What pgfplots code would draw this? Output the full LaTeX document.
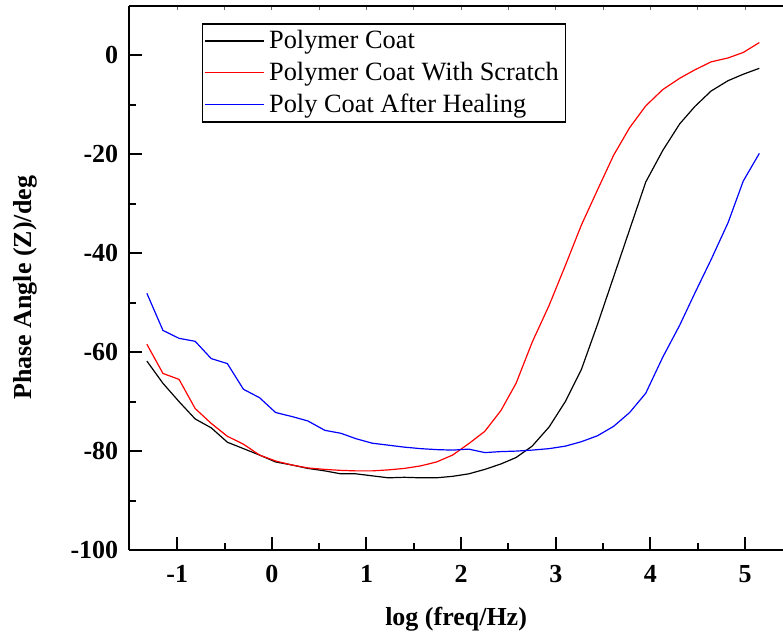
\documentclass[border=0pt]{standalone}
\usepackage{pgfplots}
\pgfplotsset{compat=1.18}
\usepackage{fontspec}
\setmainfont{Liberation Serif}

\pgfplotsset{
  /pgfplots/legend image code/.code={\draw[#1] (0bp,0bp) -- (29.5bp,0bp);},
}

\pgfplotstableread{
x y
-1.32 -61.8
-1.15 -66.3
-0.98 -70.0
-0.81 -73.5
-0.64 -75.3
-0.47 -78.2
-0.30 -79.5
-0.13 -80.8
0.04 -82.2
0.21 -82.8
0.38 -83.5
0.56 -84.0
0.73 -84.6
0.89 -84.6
1.06 -85.0
1.23 -85.4
1.40 -85.3
1.57 -85.4
1.74 -85.4
1.91 -85.1
2.08 -84.6
2.25 -83.7
2.42 -82.6
2.58 -81.3
2.75 -79.0
2.93 -75.1
3.10 -70.0
3.27 -63.5
3.44 -54.4
3.61 -44.8
3.78 -35.2
3.95 -25.6
4.13 -19.2
4.31 -13.8
4.47 -10.3
4.64 -7.2
4.82 -5.1
4.98 -3.8
5.15 -2.6
}\coat

\pgfplotstableread{
x y
-1.32 -58.4
-1.15 -64.3
-0.98 -65.5
-0.81 -71.4
-0.64 -74.4
-0.47 -77.0
-0.30 -78.6
-0.13 -80.8
0.04 -82.0
0.21 -82.8
0.38 -83.4
0.56 -83.7
0.73 -83.9
0.89 -84.0
1.06 -84.0
1.23 -83.8
1.40 -83.5
1.57 -83.0
1.74 -82.2
1.91 -80.8
2.08 -78.5
2.25 -76.0
2.42 -71.8
2.58 -66.3
2.75 -58.0
2.93 -50.5
3.10 -42.5
3.27 -34.3
3.44 -27.2
3.61 -20.2
3.78 -14.6
3.95 -10.2
4.13 -6.9
4.31 -4.6
4.47 -2.9
4.64 -1.3
4.82 -0.5
4.98 0.6
5.15 2.6
}\scratch

\pgfplotstableread{
x y
-1.32 -48.1
-1.15 -55.6
-0.98 -57.2
-0.81 -57.8
-0.64 -61.3
-0.47 -62.3
-0.30 -67.5
-0.13 -69.2
0.04 -72.2
0.21 -73.0
0.38 -73.9
0.56 -75.8
0.73 -76.4
0.89 -77.5
1.06 -78.4
1.23 -78.8
1.40 -79.2
1.57 -79.5
1.74 -79.7
1.91 -79.8
2.08 -79.6
2.25 -80.3
2.42 -80.1
2.58 -80.0
2.75 -79.8
2.93 -79.5
3.10 -79.0
3.27 -78.1
3.44 -76.9
3.61 -75.0
3.78 -72.2
3.95 -68.3
4.13 -61.0
4.31 -54.5
4.47 -48.0
4.64 -41.3
4.82 -33.8
4.98 -25.4
5.15 -19.8
}\healed

\begin{document}
\begin{tikzpicture}
\begin{axis}[
  at={(0,0)}, anchor=south west,
  scale only axis, width=327.2bp, height=272.25bp,
  xmin=-1.507, xmax=5.4, ymin=-100, ymax=10,
  axis x line*=bottom, axis y line*=left,
  x axis line style={-}, y axis line style={-},
  axis line style={line width=1bp, black},
  tick align=inside,
  xtick={-1,0,...,5}, minor x tick num=1,
  ytick={-100,-80,...,0}, minor y tick num=1,
  major tick length=6.5bp, minor tick length=3.3bp,
  every tick/.style={line width=1bp, black},
  ticklabel style={font=\bfseries\fontsize{13bp}{15bp}\selectfont},
  /pgf/number format/assume math mode=true,
  xticklabel style={yshift=-4bp},
  yticklabel style={xshift=-2bp},
  xlabel={log (freq/Hz)}, ylabel={Phase Angle (Z)/deg},
  label style={font=\bfseries\fontsize{13bp}{15bp}\selectfont},
  xlabel style={at={(axis description cs:0.5,-0.128)}, anchor=center},
  ylabel style={at={(axis description cs:-0.1594,0.482)}, anchor=center},
  legend style={at={(axis description cs:0.1107,0.968)}, anchor=north west,
    draw=black, line width=0.6bp, font=\fontsize{13.2bp}{15bp}\selectfont,
    inner xsep=1bp, inner ysep=1.2bp, row sep=1.3bp,
    nodes={inner xsep=2.4bp}},
  legend cell align=left,
  every axis plot/.append style={line width=0.6bp},
]
\addplot[black] table[x=x,y=y]{\coat};
\addlegendentry{Polymer Coat}
\addplot[red] table[x=x,y=y]{\scratch};
\addlegendentry{Polymer Coat With Scratch}
\addplot[blue] table[x=x,y=y]{\healed};
\addlegendentry{Poly Coat After Healing}
\end{axis}
\begin{axis}[
  at={(0,0)}, anchor=south west,
  scale only axis, width=327.2bp, height=272.25bp,
  xmin=-1.507, xmax=5.4, ymin=-100, ymax=10,
  axis x line*=top, axis y line=none,
  x axis line style={-, line width=1.2bp, black},
  tick align=inside,
  xtick={-1,0,...,5}, minor x tick num=1,
  xticklabels={}, ytick=\empty,
  major tick length=2bp, minor tick length=2bp,
  every tick/.style={line width=0.5bp, black!60},
]
\end{axis}
\pgfresetboundingbox
\path (-64.65bp,-43bp) rectangle (327.2bp,275.25bp);
\end{tikzpicture}
\end{document}
